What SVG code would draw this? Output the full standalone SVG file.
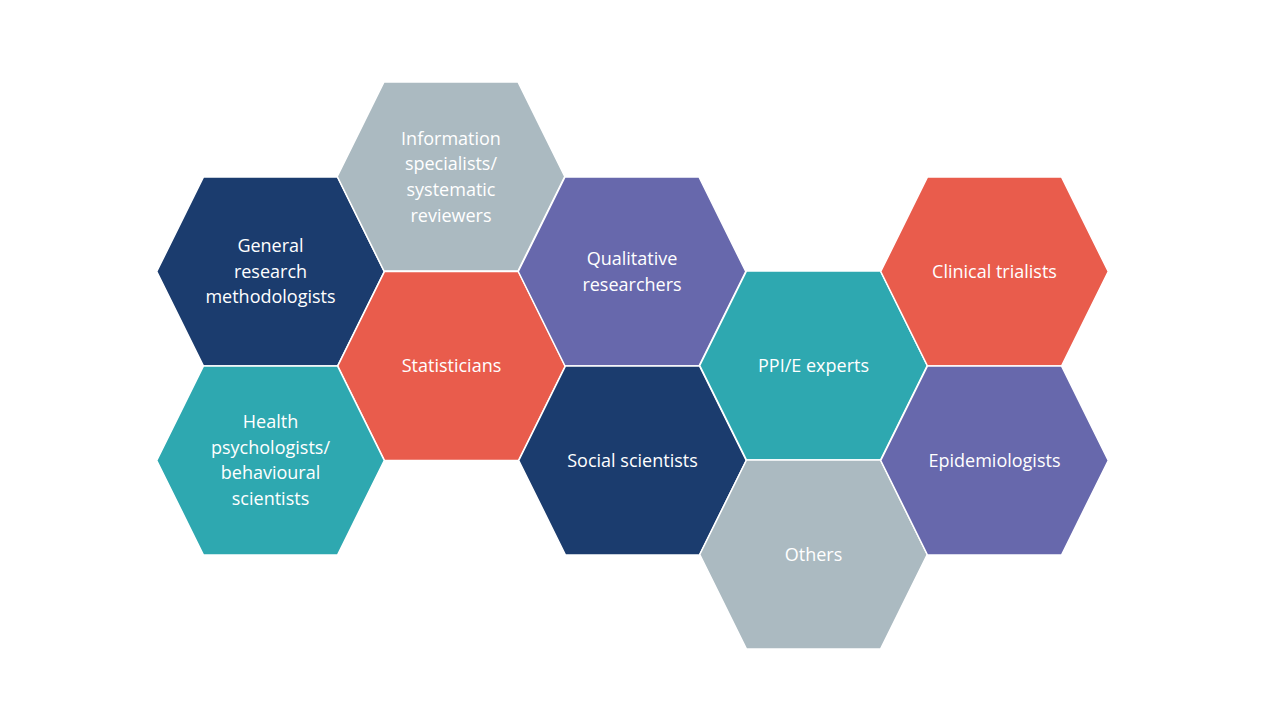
<svg xmlns="http://www.w3.org/2000/svg" xmlns:xlink="http://www.w3.org/1999/xlink" width="1280" height="720" viewBox="0 0 1280 720">
<style>
.hex{stroke:#FFFFFF;stroke-width:1.5}
.navy{fill:#1B3C6E}.gray{fill:#ABBAC1}.red{fill:#E95C4C}.purple{fill:#6768AC}.teal{fill:#2EA8B0}
text{font-family:"Open Sans","Liberation Sans",sans-serif;font-size:18px;fill:#FFFFFF;text-anchor:middle}
</style>
<defs>
<path id="hx" d="M-67,-94.5 L67,-94.5 L113.75,0 L67,94.5 L-67,94.5 L-113.75,0 Z"/>
</defs>
<rect width="1280" height="720" fill="#FFFFFF"/>
<g id="general"><use xlink:href="#hx" href="#hx" class="hex navy" transform="translate(270.5,271.5)"/>
<text x="270.5" y="252">General</text><text x="270.5" y="278">research</text><text x="270.5" y="303">methodologists</text></g>
<g id="information"><use xlink:href="#hx" href="#hx" class="hex gray" transform="translate(451,176.5)"/>
<text x="451" y="145">Information</text><text x="451" y="170">specialists/</text><text x="451" y="196">systematic</text><text x="451" y="222">reviewers</text></g>
<g id="statisticians"><use xlink:href="#hx" href="#hx" class="hex red" transform="translate(451.5,366)"/>
<text x="451.5" y="372">Statisticians</text></g>
<g id="health"><use xlink:href="#hx" href="#hx" class="hex teal" transform="translate(270.5,460.5)"/>
<text x="270.5" y="428">Health</text><text x="270.5" y="454">psychologists/</text><text x="270.5" y="479">behavioural</text><text x="270.5" y="505">scientists</text></g>
<g id="qualitative"><use xlink:href="#hx" href="#hx" class="hex purple" transform="translate(632,271.5)"/>
<text x="632" y="265">Qualitative</text><text x="632" y="291">researchers</text></g>
<g id="social"><use xlink:href="#hx" href="#hx" class="hex navy" transform="translate(632.5,460.5)"/>
<text x="632.5" y="467">Social scientists</text></g>
<g id="ppie"><use xlink:href="#hx" href="#hx" class="hex teal" transform="translate(813.5,365.5)"/>
<text x="813.5" y="372">PPI/E experts</text></g>
<g id="others"><use xlink:href="#hx" href="#hx" class="hex gray" transform="translate(813.5,554.5)"/>
<text x="813.5" y="561">Others</text></g>
<g id="clinical"><use xlink:href="#hx" href="#hx" class="hex red" transform="translate(994.5,271.5)"/>
<text x="994.5" y="278">Clinical trialists</text></g>
<g id="epidemiologists"><use xlink:href="#hx" href="#hx" class="hex purple" transform="translate(994.5,460.5)"/>
<text x="994.5" y="467">Epidemiologists</text></g>
<g id="connectors"/>
</svg>
